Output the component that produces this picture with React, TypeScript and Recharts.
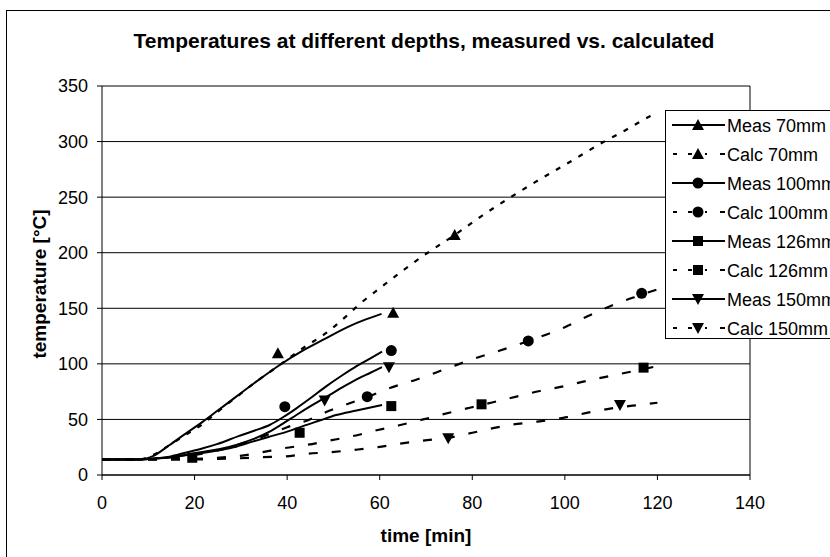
import React from 'react';
import { ComposedChart, Line, XAxis, YAxis, CartesianGrid, ReferenceLine } from 'recharts';

type P = { t: number; v: number };
const pts = (a: number[][]): P[] => a.map(([t, v]) => ({ t, v }));

// time [min], temperature [°C]
const meas70 = pts([[0,14],[8,14],[11,17],[14.6,27],[18,37],[21.8,48],[25,58],[29,70.5],[33,83],[38.4,99],[43,111],[47.7,121.5],[53.5,134],[57,140],[60.4,145]]);
const calc70 = pts([[0,14],[8,14],[11,18],[14.6,27],[18,36],[21.8,46],[25,57],[29,70],[33,83],[38.4,99],[43,113],[48.5,128],[52.8,143],[56,155],[60,168],[65,184],[70.2,199.5],[76.2,216],[82,233],[88.3,250],[95,267],[100,279],[108.3,299.5],[113,310],[118.5,323],[120,326]]);
const meas100 = pts([[0,14],[8,14],[12,15],[14.6,16.5],[18,20],[21.8,24],[25,28],[29.5,35],[33,40],[36.2,45],[39.5,53],[42,60],[45,69],[48.5,80],[52,90],[55,98],[58,105],[60.5,111]]);
const calc100 = pts([[0,14],[10,14],[15,15],[20,18],[25,22],[30,28],[35,35],[40,43],[44.9,50],[49.2,58],[53.5,64.5],[57.8,71],[62,78],[68,86],[74,95],[80.2,104.4],[86,112],[92.1,120.6],[100,133],[105,143],[110.4,153],[115,160],[120,167]]);
const meas126 = pts([[0,14],[8,14],[12,15],[15,16],[18.5,18],[22,20],[25.5,22.5],[29,25.5],[32.5,30],[36.2,34.5],[40,39],[43.4,44],[47,49],[50.6,54],[55,58],[60.5,63]]);
const calc126 = pts([[0,14],[15,14],[20,14.5],[24.7,15.5],[29.4,17],[34,20],[39.1,24],[44.1,27],[49.2,31],[54.2,35],[59.6,40.5],[64,44.5],[69.4,50],[75,56],[82,63],[88,69],[94.6,75.6],[100,80],[105,85],[112,91],[120,98]]);
const meas150 = pts([[0,14],[8,14],[12,15],[15,16],[18,18],[22,21],[25.5,23.5],[29,27],[32.5,32],[36.2,39],[39,46],[42,54],[45.5,63],[49.2,72],[52,79],[55,86],[58,92],[60.5,97]]);
const calc150 = pts([[0,14],[20,14],[25,14.5],[29.4,15],[34,16],[39.1,16.5],[44.1,19],[49.2,20.5],[54.2,22.5],[59.6,25],[64,28],[69.4,31],[74.8,33.5],[80,38],[88.1,45],[94,48],[100.4,52],[106,57],[111.9,61],[116,63],[120,65]]);

// marker positions
const meas70Marks = pts([[38,109.5],[62.9,146]]);
const calc70Marks = pts([[76.2,216]]);
const meas100Marks = pts([[39.5,61.5],[62.5,112]]);
const calc100Marks = pts([[57.3,70.5],[92.1,120.6],[116.6,163.5]]);
const meas126Marks = pts([[42.7,38],[62.5,62]]);
const calc126Marks = pts([[19.5,15.5],[82,63.6],[117,96.6]]);
const meas150Marks = pts([[48.1,67],[62,97]]);
const calc150Marks = pts([[74.8,33],[111.9,63]]);

const xTicks = [0, 20, 40, 60, 80, 100, 120, 140];
const yTicks = [0, 50, 100, 150, 200, 250, 300, 350];

const FONT = '"Liberation Sans", Arial, sans-serif';

type Shape = 'tri' | 'dtri' | 'circle' | 'square';

function markerEl(shape: Shape, cx: number, cy: number, key?: string) {
  switch (shape) {
    case 'tri':
      return <path key={key} d={`M${cx},${cy - 6}L${cx + 6},${cy + 5}L${cx - 6},${cy + 5}Z`} fill="#000" />;
    case 'dtri':
      return <path key={key} d={`M${cx - 6},${cy - 5}L${cx + 6},${cy - 5}L${cx},${cy + 6}Z`} fill="#000" />;
    case 'circle':
      return <circle key={key} cx={cx} cy={cy} r={5.5} fill="#000" />;
    default:
      return <rect key={key} x={cx - 5} y={cy - 5} width={10} height={10} fill="#000" />;
  }
}

type Series = { name: string; data: P[]; marks: P[]; shape: Shape; calc: boolean; dash?: string };

const series: Series[] = [
  { name: 'Meas 70mm', data: meas70, marks: meas70Marks, shape: 'tri', calc: false },
  { name: 'Calc 70mm', data: calc70, marks: calc70Marks, shape: 'tri', calc: true, dash: '5 8' },
  { name: 'Meas 100mm', data: meas100, marks: meas100Marks, shape: 'circle', calc: false },
  { name: 'Calc 100mm', data: calc100, marks: calc100Marks, shape: 'circle', calc: true, dash: '9 14' },
  { name: 'Meas 126mm', data: meas126, marks: meas126Marks, shape: 'square', calc: false },
  { name: 'Calc 126mm', data: calc126, marks: calc126Marks, shape: 'square', calc: true, dash: '9 14' },
  { name: 'Meas 150mm', data: meas150, marks: meas150Marks, shape: 'dtri', calc: false },
  { name: 'Calc 150mm', data: calc150, marks: calc150Marks, shape: 'dtri', calc: true, dash: '9 14' },
];

function LegendBox() {
  const rowH = 29;
  return (
    <svg width={200} height={230} style={{ position: 'absolute', left: 665, top: 110 }}>
      <rect x={0.5} y={0.5} width={220} height={228} fill="#fff" stroke="#000" strokeWidth={1} />
      {series.map((s, i) => {
        const cy = 15 + i * rowH;
        return (
          <g key={s.name}>
            {s.calc ? (
              <g>
                <line x1={8} y1={cy} x2={12} y2={cy} stroke="#000" strokeWidth={2} />
                <line x1={23} y1={cy} x2={27} y2={cy} stroke="#000" strokeWidth={2} />
                <line x1={40} y1={cy} x2={42} y2={cy} stroke="#000" strokeWidth={2} />
                <line x1={55} y1={cy} x2={60} y2={cy} stroke="#000" strokeWidth={2} />
              </g>
            ) : (
              <line x1={7} y1={cy} x2={60} y2={cy} stroke="#000" strokeWidth={2} />
            )}
            {markerEl(s.shape, 33, cy)}
            <text x={62} y={cy + 6.5} fontSize={18} fontFamily={FONT} fill="#000">{s.name}</text>
          </g>
        );
      })}
    </svg>
  );
}

export default function App() {
  return (
    <div style={{ position: 'absolute', left: 0, top: 0, width: 830, height: 557, overflow: 'hidden', background: '#fff' }}>
      <div style={{ position: 'absolute', left: 6, top: 10, width: 1000, height: 1000, border: '1px solid #000' }} />
      <div style={{ position: 'absolute', left: 0, top: 0 }}>
        <ComposedChart width={830} height={557} margin={{ top: 86, right: 80, bottom: 52, left: 0 }}>
          <CartesianGrid horizontal vertical={false} stroke="#000" strokeWidth={1} />
          <XAxis
            type="number"
            dataKey="t"
            domain={[0, 140]}
            ticks={xTicks}
            allowDataOverflow
            height={30}
            tickSize={5}
            tickMargin={16}
            axisLine={{ stroke: '#000' }}
            tickLine={{ stroke: '#000' }}
            tick={{ fill: '#000', fontSize: 18, fontFamily: FONT }}
          />
          <YAxis
            type="number"
            dataKey="v"
            domain={[0, 350]}
            ticks={yTicks}
            allowDataOverflow
            width={102}
            tickSize={5}
            tickMargin={9}
            axisLine={{ stroke: '#000' }}
            tickLine={{ stroke: '#000' }}
            tick={{ fill: '#000', fontSize: 18, fontFamily: FONT }}
          />
          <ReferenceLine x={140} stroke="#000" strokeWidth={1} />
          {series.map((s) => (
            <Line
              key={s.name}
              data={s.data}
              dataKey="v"
              name={s.name}
              type="monotone"
              stroke="#000"
              strokeWidth={s.calc ? 2.2 : 2}
              strokeDasharray={s.dash}
              dot={false}
              activeDot={false}
              isAnimationActive={false}
            />
          ))}
          {series.map((s) => (
            <Line
              key={s.name + '-marks'}
              data={s.marks}
              dataKey="v"
              name={s.name + ' markers'}
              stroke="none"
              legendType="none"
              dot={(p: any) => markerEl(s.shape, p.cx, p.cy, `${s.name}-${p.index}`)}
              activeDot={false}
              isAnimationActive={false}
            />
          ))}
        </ComposedChart>
      </div>
      <LegendBox />
      <svg width={830} height={557} style={{ position: 'absolute', left: 0, top: 0, pointerEvents: 'none' }}>
        <text x={424} y={48} textAnchor="middle" fontSize={21} fontWeight="bold" fontFamily={FONT} fill="#000">
          Temperatures at different depths, measured vs. calculated
        </text>
        <text x={426} y={542} textAnchor="middle" fontSize={19} fontWeight="bold" fontFamily={FONT} fill="#000">
          time [min]
        </text>
        <text x={46} y={284} transform="rotate(-90 46 284)" textAnchor="middle" fontSize={19} fontWeight="bold" fontFamily={FONT} fill="#000">
          temperature [°C]
        </text>
      </svg>
    </div>
  );
}
